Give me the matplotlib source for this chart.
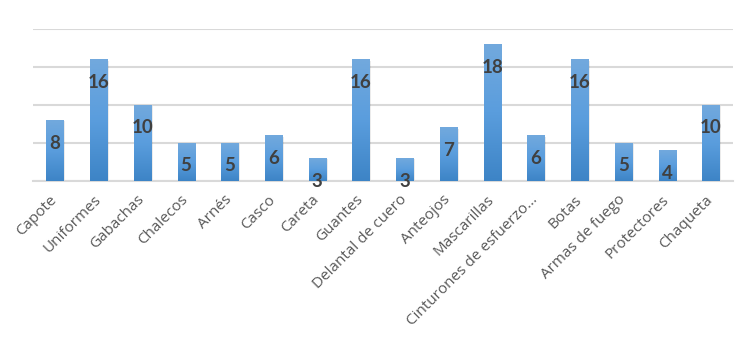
import numpy as np
import matplotlib
matplotlib.use("Agg")
from matplotlib import pyplot as plt
from matplotlib.colors import LinearSegmentedColormap

categories = ["Capote", "Uniformes", "Gabachas", "Chalecos", "Arnés", "Casco",
              "Careta", "Guantes", "Delantal de cuero", "Anteojos", "Mascarillas",
              "Cinturones de esfuerzo...", "Botas", "Armas de fuego", "Protectores",
              "Chaqueta"]
values = [8, 16, 10, 5, 5, 6, 3, 16, 3, 7, 18, 6, 16, 5, 4, 10]

fig = plt.figure(figsize=(7.54, 3.5), dpi=100)
ax = fig.add_axes([0.0438, 0.483, 0.928, 0.434])

x = np.arange(len(categories))
width = 0.39
cmap = LinearSegmentedColormap.from_list("bar", ["#3d84c6", "#5a9ddd", "#72a9dd"])
grad = np.linspace(0, 1, 256).reshape(-1, 1)

for xi, v in zip(x, values):
    # soft shadow to the right
    ax.bar(xi + 0.04, v, width=width, bottom=-0.15, color="#000000", alpha=0.08, zorder=2)
    ax.imshow(grad, cmap=cmap, origin="lower", aspect="auto", zorder=3,
              extent=[xi - width / 2, xi + width / 2, 0, v])
    ax.annotate(str(v), (xi, v), xytext=(0, -16.5), textcoords="offset points",
                ha="center", va="center", fontsize=13.5, fontweight="bold",
                color="#404040", family="Lato", zorder=5)

ax.set_xlim(-0.5, len(categories) - 0.5)
ax.set_ylim(0, 20)
ax.set_yticks([0, 5, 10, 15, 20])
ax.yaxis.grid(True, color="#d9d9d9", lw=1.5, zorder=0)
ax.tick_params(axis="y", left=False, labelleft=False)
ax.tick_params(axis="x", length=0, pad=12)
ax.set_xticks(x)
ax.set_xticklabels(categories, rotation=45, ha="right", va="center",
                   rotation_mode="anchor", fontsize=11, color="#595959",
                   family="Open Sans")
for s in ["left", "right", "top"]:
    ax.spines[s].set_visible(False)
ax.spines["bottom"].set_color("#d9d9d9")
ax.spines["bottom"].set_linewidth(1.5)

fig.savefig("out.png", dpi=100)
